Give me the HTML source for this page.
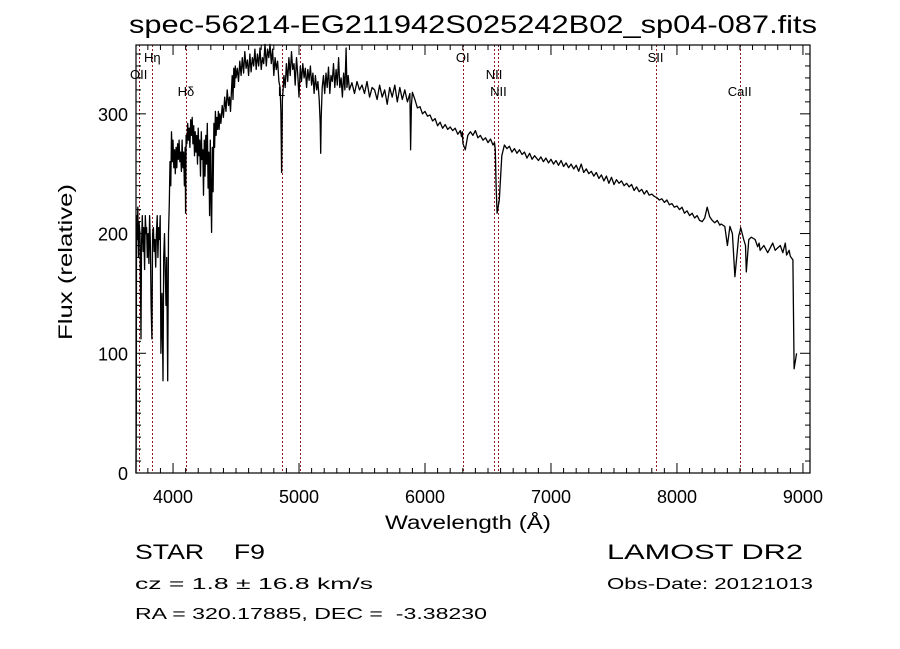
<!DOCTYPE html>
<html><head><meta charset="utf-8"><style>
html,body{margin:0;padding:0;background:#fff;}
svg{display:block;}
text{font-family:"Liberation Sans",sans-serif;fill:#000;white-space:pre;}
</style></head><body>
<svg id="chart" width="900" height="649" viewBox="0 0 900 649" xmlns="http://www.w3.org/2000/svg" xml:space="preserve">
<rect width="900" height="649" fill="#fff"/>
<text x="473" y="33" text-anchor="middle" font-size="25" textLength="688" lengthAdjust="spacingAndGlyphs">spec-56214-EG211942S025242B02_sp04-087.fits</text>
<g id="lines"></g>
<g id="spec"></g>
<g id="axes"></g>
<text x="468" y="529" text-anchor="middle" font-size="19" textLength="166" lengthAdjust="spacingAndGlyphs">Wavelength (Å)</text>
<text transform="translate(72,262) rotate(-90)" text-anchor="middle" font-size="19" textLength="156" lengthAdjust="spacingAndGlyphs">Flux (relative)</text>
<text x="135" y="559" font-size="21" textLength="130" lengthAdjust="spacingAndGlyphs">STAR    F9</text>
<text x="607" y="559" font-size="21" textLength="196" lengthAdjust="spacingAndGlyphs">LAMOST DR2</text>
<text x="135" y="589" font-size="16" textLength="238" lengthAdjust="spacingAndGlyphs">cz = 1.8 ± 16.8 km/s</text>
<text x="607" y="589" font-size="16" textLength="206" lengthAdjust="spacingAndGlyphs">Obs-Date: 20121013</text>
<text x="135" y="619" font-size="16" textLength="352" lengthAdjust="spacingAndGlyphs">RA = 320.17885, DEC =  -3.38230</text>
</svg>
<script>
const wavelengths=[3706,3708,3710,3716,3720,3726,3730,3738,3746,3750,3756,3762,3768,3774,3780,3786,3790,3796,3802,3808,3814,3820,3826,3832,3838,3844,3850,3856,3862,3868,3874,3880,3886,3892,3898,3904,3912,3920,3926,3932,3938,3944,3950,3958,3964,3970,3976,3982,3988,3994,4000,4006,4012,4018,4024,4030,4036,4042,4048,4054,4060,4066,4072,4078,4084,4090,4096,4100,4104,4110,4116,4122,4128,4134,4140,4146,4152,4158,4164,4170,4176,4182,4188,4194,4200,4206,4212,4218,4224,4230,4236,4242,4248,4254,4260,4266,4272,4278,4284,4290,4296,4300,4306,4312,4318,4324,4330,4336,4342,4348,4354,4360,4366,4372,4380,4390,4400,4410,4420,4430,4440,4448,4456,4464,4470,4476,4482,4488,4494,4500,4510,4520,4530,4540,4550,4560,4570,4580,4590,4600,4610,4620,4630,4640,4650,4660,4670,4680,4690,4700,4710,4720,4730,4740,4750,4760,4770,4780,4790,4800,4810,4820,4830,4840,4850,4856,4862,4868,4874,4880,4890,4900,4910,4920,4930,4940,4950,4960,4970,4980,4990,5000,5010,5020,5030,5040,5050,5060,5070,5080,5090,5100,5110,5120,5130,5140,5150,5160,5168,5172,5176,5184,5194,5204,5214,5224,5234,5244,5254,5264,5274,5284,5294,5304,5314,5324,5334,5344,5354,5364,5374,5380,5390,5400,5420,5440,5460,5480,5500,5520,5540,5560,5580,5600,5620,5640,5660,5680,5700,5720,5740,5760,5780,5800,5820,5840,5860,5880,5886,5892,5900,5920,5940,5960,5980,6000,6020,6040,6060,6080,6100,6120,6140,6160,6180,6200,6220,6240,6260,6280,6290,6296,6302,6320,6340,6360,6380,6400,6420,6440,6460,6480,6500,6520,6540,6552,6558,6564,6572,6590,6610,6630,6650,6670,6690,6710,6730,6750,6770,6790,6810,6830,6850,6870,6900,6920,6940,6960,6980,7000,7020,7040,7060,7080,7100,7120,7140,7160,7180,7200,7220,7240,7260,7280,7300,7320,7340,7360,7380,7400,7420,7440,7460,7480,7500,7520,7540,7560,7580,7600,7620,7640,7660,7680,7700,7720,7740,7760,7780,7800,7820,7840,7860,7880,7900,7920,7940,7960,7980,8000,8020,8040,8060,8080,8100,8120,8140,8160,8180,8200,8220,8240,8260,8280,8300,8320,8340,8350,8380,8400,8420,8440,8460,8490,8500,8506,8530,8544,8550,8570,8590,8620,8640,8652,8660,8690,8720,8740,8760,8780,8800,8820,8840,8860,8870,8890,8900,8920,8930,8950,8960,8980,8988,8991];
const fluxes=[0,50,215,195,222,180,210,200,112,190,215,185,205,170,215,200,205,180,200,175,215,190,140,112,200,205,185,195,172,200,215,180,205,195,215,100,150,77,180,200,170,140,180,77,200,225,260,240,285,260,278,255,270,250,272,255,275,262,278,260,268,252,278,255,268,240,272,217,282,275,292,278,288,272,295,282,297,275,290,265,285,268,282,258,288,265,278,248,285,262,270,232,278,248,282,258,292,238,268,215,278,240,201,272,235,292,272,302,282,297,287,302,287,300,292,307,297,314,302,320,307,314,302,320,332,312,338,322,340,330,338,327,344,332,347,334,352,338,345,332,350,335,347,340,354,337,350,340,355,337,347,342,358,340,354,347,358,342,354,332,347,337,344,327,322,302,251,312,320,332,322,342,327,347,332,352,337,342,324,347,332,314,340,327,342,330,338,322,337,328,340,324,334,317,332,320,327,312,292,267,297,322,332,317,334,322,339,317,332,327,342,322,337,324,347,322,330,314,334,320,355,322,332,320,326,317,327,320,324,317,327,314,322,320,312,324,314,320,308,322,314,324,310,322,312,320,310,317,270,307,318,312,305,306,300,302,298,299,294,296,290,293,288,291,287,289,286,288,283,286,281,285,275,270,282,285,282,286,280,282,278,280,276,279,274,276,270,240,217,228,265,274,271,273,268,271,267,270,266,268,263,267,262,265,261,264,260,263,259,262,258,261,257,261,256,259,255,258,254,257,252,258,251,254,250,252,248,251,246,249,244,248,242,247,241,245,242,244,240,242,239,241,236,239,235,237,233,236,232,233,231,230,228,229,226,228,224,225,222,223,220,222,217,219,215,217,213,215,211,210,213,222,214,211,209,211,207,208,206,190,206,200,164,198,202,205,195,190,168,195,197,195,189,192,186,190,184,188,192,186,188,190,184,192,182,186,181,178,87,100];
const xTicks=[4000,5000,6000,7000,8000,9000];
const yTicks=[0,100,200,300];
const lineNames=["OII","Hη","Hδ","L","","OI","NII","NII","SII","CaII"];
const lineWaves=[3727,3835,4102,4861,5007,6300,6548,6583,7830,8498];
const lineLabelRows=[1,0,2,2,-1,0,1,2,0,2];

const L=136,R=810,T=45,B=473,XMIN=3706,XMAX=9056,YMIN=0,YMAX=357.5;
const xs=w=>L+(w-XMIN)/(XMAX-XMIN)*(R-L);
const ys=f=>B-(f-YMIN)/(YMAX-YMIN)*(B-T);
const NS="http://www.w3.org/2000/svg";
function mk(tag,attrs,parent){const e=document.createElementNS(NS,tag);for(const k in attrs)e.setAttribute(k,attrs[k]);parent.appendChild(e);return e;}

const gl=document.getElementById('lines');
lineWaves.forEach((w,i)=>{
  const x=Math.round(xs(w))+0.5;
  const ln=mk('line',{x1:x,x2:x,y1:T,y2:B,stroke:'#8b2020','stroke-width':1,'stroke-dasharray':'2,2'},gl);
  
  
  if(lineNames[i]){
    const t=mk('text',{x:xs(w),y:62+lineLabelRows[i]*17,'text-anchor':'middle','font-size':13,'font-family':'Liberation Serif, serif'},gl);
    t.textContent=lineNames[i];
    
    
  }
});

const gs=document.getElementById('spec');
let d='';
wavelengths.forEach((w,i)=>{d+=(i?'L':'M')+xs(w).toFixed(1)+','+ys(fluxes[i]).toFixed(1);});
const p=mk('path',{d:d,fill:'none',stroke:'#000','stroke-width':1.3,'stroke-linejoin':'round'},gs);



const ga=document.getElementById('axes');
const fr=mk('rect',{x:L,y:T,width:R-L,height:B-T,fill:'none',stroke:'#000','stroke-width':1.2},ga);


for(let w=3800;w<=9000;w+=100){
  const len=(w%1000===0)?10:5;
  mk('line',{x1:xs(w),x2:xs(w),y1:B,y2:B-len,stroke:'#000'},ga);
  mk('line',{x1:xs(w),x2:xs(w),y1:T,y2:T+len,stroke:'#000'},ga);
}
for(let f=0;f<=350;f+=10){
  const len=(f%100===0)?10:5;
  mk('line',{x1:L,x2:L+len,y1:ys(f),y2:ys(f),stroke:'#000'},ga);
  mk('line',{x1:R,x2:R-len,y1:ys(f),y2:ys(f),stroke:'#000'},ga);
}
xTicks.forEach(v=>{
  const t=mk('text',{x:xs(v),y:503,'text-anchor':'middle','font-size':18},ga);
  t.textContent=v;
  
  
});
yTicks.forEach(v=>{
  const t=mk('text',{x:128,y:ys(v)+7,'text-anchor':'end','font-size':18},ga);
  t.textContent=v;
  
  
});
</script>
</body></html>
